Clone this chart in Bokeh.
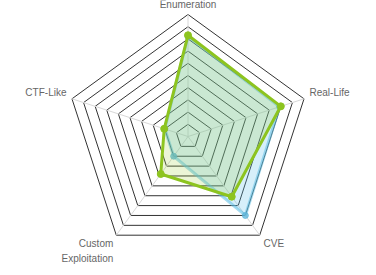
import math
from bokeh.plotting import figure
from bokeh.models import Range1d
from bokeh.embed import file_html
from bokeh.resources import INLINE
from bokeh.core.properties import value

# Radar chart: two skill profiles on five axes (score 0-10)
categories = ["Enumeration", "Real-Life", "CVE", "Custom Exploitation", "CTF-Like"]
green_scores = [8.3, 8.0, 6.1, 3.8, 2.05]
blue_scores = [8.2, 7.9, 8.0, 2.0, 2.0]
ring_levels = [1, 2, 3, 4, 5, 6, 7, 8, 9, 10]

W, H = 376, 275
CX, CY = 187.5, 136.0      # centre of the web, in pixels from top-left
UNIT = 12.2                # pixels per score point

n = len(categories)
angles = [math.pi / 2 - 2 * math.pi * k / n for k in range(n)]


def polar(values):
    xs = [v * math.cos(a) for v, a in zip(values, angles)]
    ys = [v * math.sin(a) for v, a in zip(values, angles)]
    return xs, ys


p = figure(
    width=W, height=H,
    x_range=Range1d(-CX / UNIT, (W - CX) / UNIT),
    y_range=Range1d(-(H - CY) / UNIT, CY / UNIT),
    x_axis_type=None, y_axis_type=None,
    toolbar_location=None, output_backend="svg",
    min_border=0, outline_line_color=None,
)
p.grid.visible = False
p.background_fill_color = "white"
p.border_fill_color = "white"

# concentric pentagon grid
for lvl in ring_levels:
    xs, ys = polar([lvl] * n)
    p.line(xs + xs[:1], ys + ys[:1], line_color="#333333", line_width=1)

# spokes
top = max(ring_levels)
for a in angles:
    p.line([0, top * math.cos(a)], [0, top * math.sin(a)], line_color="#d8d8d8", line_width=1)

# blue series
bx, by = polar(blue_scores)
p.patch(bx, by, fill_color="#5bc0eb", fill_alpha=0.25, line_color=None)
p.line(bx + bx[:1], by + by[:1], line_color="#5cbde3", line_alpha=0.55, line_width=3)
p.scatter(bx, by, size=6, fill_color="#5fb6d9", line_color="#5fb6d9", fill_alpha=0.75, line_alpha=0.75)

# green series
gx, gy = polar(green_scores)
p.patch(gx, gy, fill_color="#9acd32", fill_alpha=0.2, line_color=None)
p.line(gx + gx[:1], gy + gy[:1], line_color="#8dc41f", line_width=3)
p.scatter(gx, gy, size=7, fill_color="#8dc41f", line_color="#8dc41f")

# axis labels around the outer ring
label_style = [
    # (x_offset, y_offset, align)
    (0, -10.5, "center"),
    (5.5, -6.6, "left"),
    (3.8, 8.6, "left"),
    (-3.0, 8.6, "right"),
    (-5.5, -6.6, "right"),
]
ox, oy = polar([top] * n)
for name, x, y, (dx, dy, align) in zip(categories, ox, oy, label_style):
    for i, line in enumerate(name.split(" ")):
        p.text(
            x=[x], y=[y], text=[line],
            x_offset=dx, y_offset=dy + i * 14.5,
            text_align=align, text_baseline="middle",
            text_font=value("Liberation Sans"), text_font_size="10px",
            text_color="#666666",
        )

open("out.html", "w").write(file_html(p, INLINE))
